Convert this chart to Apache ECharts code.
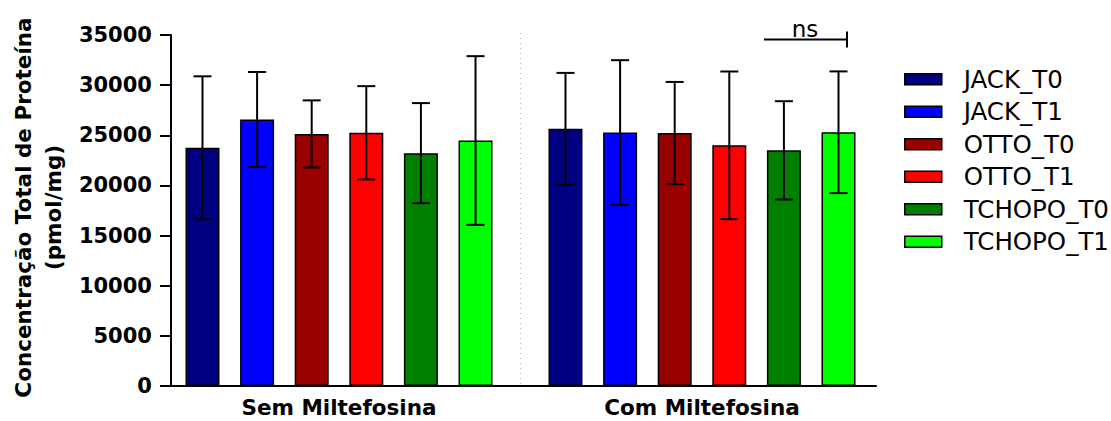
<!DOCTYPE html>
<html>
<head>
<meta charset="utf-8">
<script src="https://cdn.jsdelivr.net/npm/echarts@6/dist/echarts.min.js"></script>
<style>
html,body{margin:0;padding:0;background:#fff;}
#chart{width:1111px;height:421px;}
</style>
</head>
<body>
<div id="chart"></div>
<script>
// ---------- data ----------
const categories = ['Sem Miltefosina', 'Com Miltefosina'];
const seriesNames = ['JACK_T0', 'JACK_T1', 'OTTO_T0', 'OTTO_T1', 'TCHOPO_T0', 'TCHOPO_T1'];

const jackT0Mean   = [23750, 25650];
const jackT0Sd     = [7130, 5570];
const jackT1Mean   = [26570, 25280];
const jackT1Sd     = [4740, 7210];
const ottoT0Mean   = [25140, 25220];
const ottoT0Sd     = [3340, 5100];
const ottoT1Mean   = [25250, 24000];
const ottoT1Sd     = [4650, 7360];
const tchopoT0Mean = [23220, 23500];
const tchopoT0Sd   = [4990, 4900];
const tchopoT1Mean = [24480, 25300];
const tchopoT1Sd   = [8410, 6070];

const yMin = 0, yMax = 35000, yStep = 5000;
const yTitle = 'Concentração Total de Proteína\n(pmol/mg)';

const nsText = 'ns';
const nsCategoryIndex = 1;
const nsLevel = 34550;

// ---------- styles ----------
const colors = ['#000080', '#0000FF', '#990000', '#FF0000', '#008000', '#00FF00'];
const BAR_W = 34;
const GAP_RATIO = 0.606;
const SPACING = BAR_W * (1 + GAP_RATIO);
const BOLD = 'DejaVu Sans';

const means = [jackT0Mean, jackT1Mean, ottoT0Mean, ottoT1Mean, tchopoT0Mean, tchopoT1Mean];
const sds = [jackT0Sd, jackT1Sd, ottoT0Sd, ottoT1Sd, tchopoT0Sd, tchopoT1Sd];

const barSeries = seriesNames.map((name, s) => ({
  name: name,
  type: 'bar',
  xAxisIndex: 0,
  yAxisIndex: 0,
  barWidth: BAR_W,
  barGap: (GAP_RATIO * 100) + '%',
  data: means[s],
  itemStyle: { color: colors[s], borderColor: '#000', borderWidth: 1.5 },
  emphasis: { disabled: true },
  z: 2
}));

const errData = [];
seriesNames.forEach((name, s) => {
  categories.forEach((c, ci) => {
    errData.push([ci, means[s][ci] - sds[s][ci], means[s][ci] + sds[s][ci], s]);
  });
});

const errSeries = {
  type: 'custom',
  xAxisIndex: 0,
  yAxisIndex: 0,
  z: 5,
  silent: true,
  encode: { x: 0, y: [1, 2] },
  data: errData,
  renderItem: function (params, api) {
    const ci = api.value(0), lo = api.value(1), hi = api.value(2), s = api.value(3);
    const pLo = api.coord([ci, lo]);
    const pHi = api.coord([ci, hi]);
    const x = pLo[0] + (s - (seriesNames.length - 1) / 2) * SPACING;
    const cap = 9;
    const st = { stroke: '#000', lineWidth: 2 };
    return {
      type: 'group',
      children: [
        { type: 'line', shape: { x1: x, y1: pLo[1], x2: x, y2: pHi[1] }, style: st },
        { type: 'line', shape: { x1: x - cap, y1: pHi[1], x2: x + cap, y2: pHi[1] }, style: st },
        { type: 'line', shape: { x1: x - cap, y1: pLo[1], x2: x + cap, y2: pLo[1] }, style: st }
      ]
    };
  }
};

const sepSeries = {
  type: 'custom',
  xAxisIndex: 0,
  yAxisIndex: 0,
  z: 1,
  silent: true,
  data: [[0, yMax]],
  renderItem: function (params, api) {
    const pTop = api.coord([0, yMax]);
    const pBot = api.coord([0, yMin]);
    const w = api.size([1, 0])[0];
    const x = pTop[0] + w / 2;
    return {
      type: 'line',
      shape: { x1: x, y1: pTop[1] - 2, x2: x, y2: pBot[1] },
      style: { stroke: '#b0b0b0', lineWidth: 1, lineDash: [1, 4] }
    };
  }
};

const nsSeries = {
  type: 'custom',
  xAxisIndex: 0,
  yAxisIndex: 0,
  z: 6,
  silent: true,
  data: [[nsCategoryIndex, nsLevel]],
  renderItem: function (params, api) {
    const p = api.coord([api.value(0), api.value(1)]);
    const x1 = p[0] + 62, x2 = p[0] + 145, y = p[1];
    const st = { stroke: '#000', lineWidth: 2 };
    return {
      type: 'group',
      children: [
        { type: 'line', shape: { x1: x1, y1: y, x2: x2, y2: y }, style: st },
        { type: 'line', shape: { x1: x2, y1: y - 8, x2: x2, y2: y + 8 }, style: st },
        { type: 'text', style: { text: nsText, x: p[0] + 103, y: y + 1, align: 'center', verticalAlign: 'bottom',
          fontSize: 23, fontFamily: 'DejaVu Sans', fill: '#000' } }
      ]
    };
  }
};

const chart = echarts.init(document.getElementById('chart'), null, { renderer: 'svg' });
chart.setOption({
  animation: false,
  backgroundColor: '#fff',
  grid: [
    { left: 157.5, width: 726, top: 35, height: 351 },
    { left: 165, width: 711, top: 35, height: 351 }
  ],
  legend: {
    data: seriesNames,
    orient: 'vertical',
    left: 904,
    top: 66.7,
    padding: 0,
    itemWidth: 37,
    itemHeight: 11,
    itemGap: 7.5,
    selectedMode: false,
    icon: 'rect',
    itemStyle: { borderColor: '#000', borderWidth: 1.5 },
    textStyle: { fontFamily: 'DejaVu Sans', fontSize: 24.5, lineHeight: 24, color: '#000', padding: [0, 0, 0, 17] }
  },
  xAxis: [
    {
      gridIndex: 0, type: 'category', data: categories,
      axisLine: { show: false }, axisTick: { show: false },
      axisLabel: { margin: 10, color: '#000', fontFamily: BOLD, fontWeight: 'bold', fontSize: 21.5 }
    },
    {
      gridIndex: 1, type: 'category', data: categories,
      axisLine: { show: true, lineStyle: { color: '#000', width: 2 } },
      axisTick: { show: false }, axisLabel: { show: false }
    }
  ],
  yAxis: [
    { gridIndex: 0, type: 'value', min: yMin, max: yMax, interval: yStep, show: false, splitLine: { show: false } },
    {
      gridIndex: 1, type: 'value', min: yMin, max: yMax, interval: yStep,
      axisLine: { show: true, lineStyle: { color: '#000', width: 2 } },
      axisTick: { show: true, length: 11, lineStyle: { color: '#000', width: 2 } },
      axisLabel: { margin: 19, color: '#000', fontFamily: BOLD, fontWeight: 'bold', fontSize: 21,
        formatter: function (v) { return String(v); } },
      splitLine: { show: false },
      name: yTitle,
      nameLocation: 'middle',
      nameGap: 125.5,
      nameTextStyle: { color: '#000', fontFamily: BOLD, fontWeight: 'bold', fontSize: 21.5, lineHeight: 30,
        align: 'center', verticalAlign: 'middle', padding: [0, 0, 0, 6] }
    }
  ],
  series: barSeries.concat([errSeries, sepSeries, nsSeries])
});
</script>
</body>
</html>
